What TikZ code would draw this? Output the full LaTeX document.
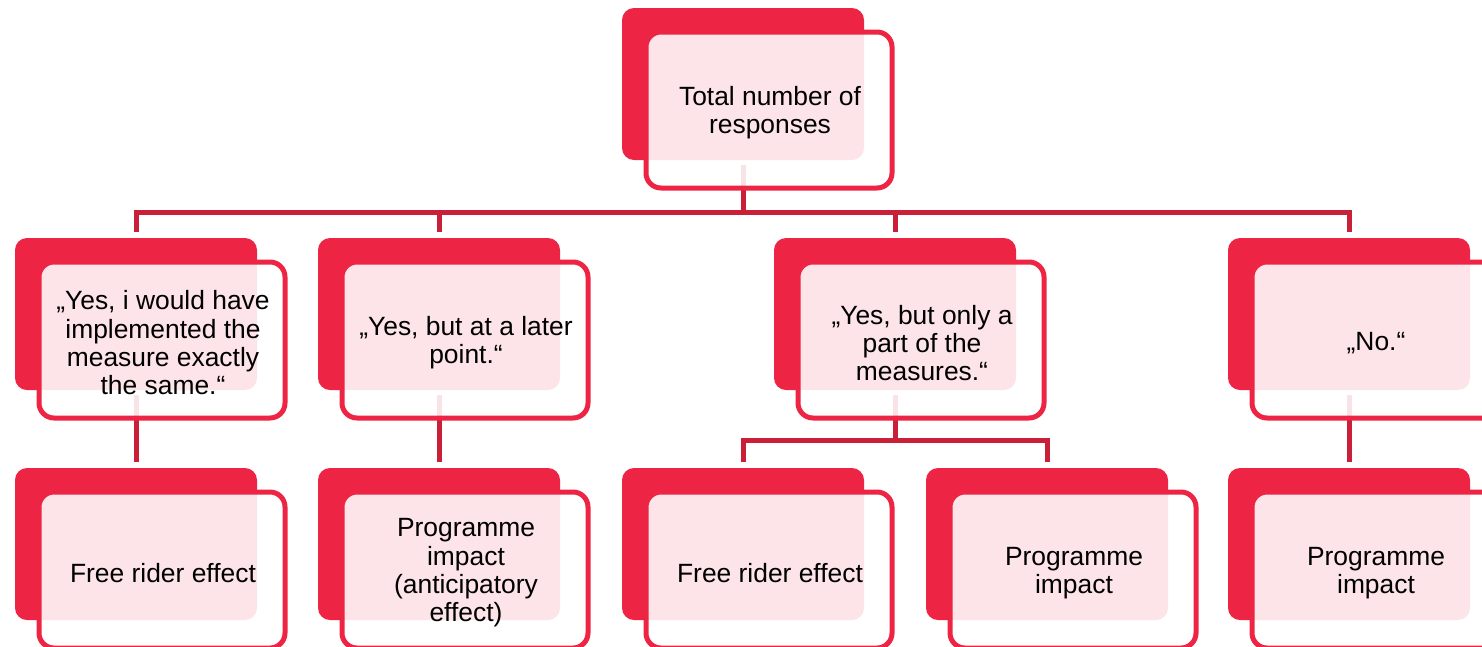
\documentclass[tikz,border=0pt]{standalone}
\usepackage{fontspec}
\setmainfont{Liberation Sans}
\usetikzlibrary{backgrounds}
\definecolor{boxred}{RGB}{237,36,67}
\definecolor{linered}{RGB}{202,31,57}
\tikzset{
  backbox/.style={draw=none, fill=boxred, rounded corners=12pt, inner sep=0pt,
    minimum width=242pt, minimum height=152pt},
  frontbox/.style={draw=boxred, line width=5pt, fill=white, fill opacity=0.88,
    rounded corners=15pt, inner sep=0pt,
    minimum width=246pt, minimum height=156pt},
  boxtext/.style={text=black, align=center, inner sep=0pt,
    font=\fontsize{26.4}{28.3}\selectfont},
  conn/.style={draw=linered, line width=5pt}
}
\newcommand{\twobox}[4]{%
  \node[backbox] (#1b) at (#2+121,#3+76) {};
  \node[frontbox] (#1f) at (#2+147,#3+102) {};
  \node[boxtext] (#1) at (#2+148,#3+105) {#4};
}
\begin{document}
\begin{tikzpicture}[x=1pt,y=-1pt]
\useasboundingbox (0,0) rectangle (1482,646);
% top
\twobox{r0}{622}{8}{Total number of\\responses}
% level 2
\twobox{a1}{15}{238}{„Yes, i would have\\implemented the\\measure exactly\\the same.“}
\twobox{a2}{318}{238}{„Yes, but at a later\\point.“}
\twobox{a3}{774}{238}{„Yes, but only a\\part of the\\measures.“}
\twobox{a4}{1228}{238}{„No.“}
% level 3
\twobox{b1}{15}{468}{Free rider effect}
\twobox{b2}{318}{468}{Programme\\impact\\(anticipatory\\effect)}
\twobox{b3}{622}{468}{Free rider effect}
\twobox{b4}{926}{468}{Programme\\impact}
\twobox{b5}{1228}{468}{Programme\\impact}
\coordinate (bus) at (742,212);
\coordinate (bus2) at (894,440);
\begin{scope}[on background layer]
  \draw[conn] ([yshift=-5pt]r0b.south) -- (r0b.south |- bus);
  \draw[conn] ([yshift=6pt]a1b.north) |- (a4b.north |- bus) -- ([yshift=6pt]a4b.north);
  \draw[conn] (a2b.north |- bus) -- ([yshift=6pt]a2b.north);
  \draw[conn] (a3b.north |- bus) -- ([yshift=6pt]a3b.north);
  \draw[conn] ([yshift=-5pt]a1b.south) -- ([yshift=6pt]b1b.north);
  \draw[conn] ([yshift=-5pt]a2b.south) -- ([yshift=6pt]b2b.north);
  \draw[conn] ([yshift=-5pt]a4b.south) -- ([yshift=6pt]b5b.north);
  \draw[conn] ([yshift=-5pt]a3b.south) -- (a3b.south |- bus2);
  \draw[conn] ([yshift=6pt]b3b.north) |- (b4b.north |- bus2) -- ([yshift=6pt]b4b.north);
\end{scope}
\end{tikzpicture}
\end{document}
